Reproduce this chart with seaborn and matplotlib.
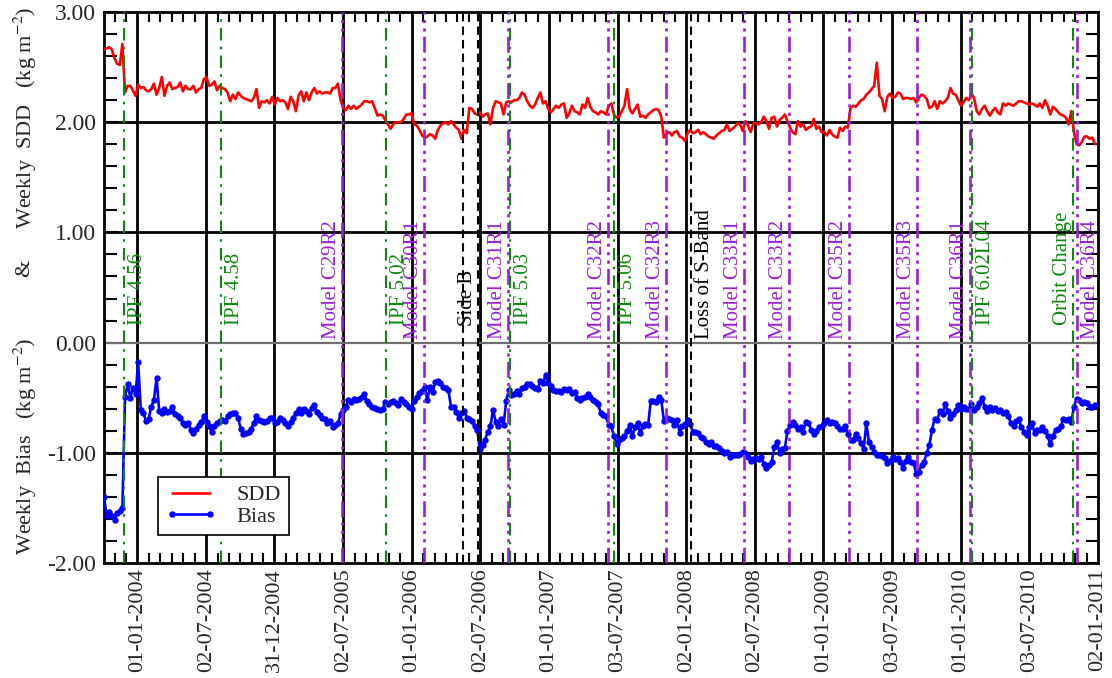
import numpy as np
import pandas as pd
import matplotlib
matplotlib.use("Agg")
import matplotlib.pyplot as plt
import matplotlib.transforms as mtransforms
import seaborn as sns

# ---------------------------------------------------------------- data
first_week = "2003-10-04"

# weekly standard deviation of differences (kg m-2)
sdd = [
    2.66, 2.67, 2.68, 2.66, 2.58, 2.53, 2.52, 2.71, 2.27, 2.33,
    2.33, 2.29, 2.24, 2.34, 2.31, 2.32, 2.29, 2.28, 2.30, 2.35,
    2.25, 2.31, 2.41, 2.24, 2.33, 2.36, 2.30, 2.31, 2.32, 2.36,
    2.28, 2.33, 2.30, 2.30, 2.33, 2.27, 2.30, 2.31, 2.39, 2.41,
    2.33, 2.34, 2.37, 2.29, 2.33, 2.31, 2.30, 2.27, 2.19, 2.25,
    2.21, 2.27, 2.24, 2.22, 2.21, 2.20, 2.19, 2.22, 2.30, 2.13,
    2.19, 2.18, 2.20, 2.17, 2.23, 2.16, 2.22, 2.19, 2.20, 2.18,
    2.12, 2.23, 2.19, 2.10, 2.24, 2.28, 2.19, 2.27, 2.20, 2.27,
    2.31, 2.26, 2.28, 2.26, 2.27, 2.27, 2.26, 2.31, 2.31, 2.35,
    2.20, 2.13, 2.11, 2.15, 2.12, 2.15, 2.12, 2.14, 2.16, 2.19,
    2.19, 2.18, 2.19, 2.13, 2.06, 2.07, 2.06, 2.02, 1.98, 1.94,
    1.98, 2.00, 2.00, 2.00, 2.03, 2.07, 2.07, 2.08, 1.98, 1.97,
    1.93, 1.88, 1.86, 1.87, 1.89, 1.88, 1.85, 1.93, 1.97, 1.99,
    2.00, 1.98, 2.01, 1.98, 1.95, 1.93, 1.85, 1.93, 1.90, 2.13,
    2.12, 2.08, 2.07, 2.09, 2.05, 2.07, 2.08, 1.98, 2.13, 2.19,
    2.18, 2.17, 2.07, 2.18, 2.19, 2.18, 2.20, 2.20, 2.22, 2.27,
    2.25, 2.19, 2.15, 2.13, 2.16, 2.22, 2.27, 2.17, 2.19, 2.12,
    2.09, 2.12, 2.15, 2.13, 2.16, 2.17, 2.04, 2.08, 2.15, 2.10,
    2.09, 2.07, 2.16, 2.13, 2.22, 2.14, 2.10, 2.09, 2.07, 2.10,
    2.09, 2.07, 2.15, 2.17, 2.07, 2.04, 2.05, 2.10, 2.15, 2.30,
    2.12, 2.08, 2.12, 2.16, 2.05, 2.06, 2.04, 2.07, 2.09, 2.11,
    2.12, 2.11, 2.05, 1.86, 1.89, 1.91, 1.88, 1.91, 1.92, 1.87,
    1.86, 1.83, 1.90, 1.93, 1.90, 1.91, 1.93, 1.89, 1.91, 1.89,
    1.87, 1.86, 1.85, 1.88, 1.90, 1.92, 1.93, 1.98, 1.92, 1.94,
    1.96, 1.99, 1.98, 1.92, 2.01, 1.97, 1.91, 1.99, 1.99, 1.98,
    2.00, 2.05, 2.01, 1.94, 2.04, 2.05, 1.96, 2.02, 2.04, 2.07,
    2.01, 1.95, 1.91, 1.89, 2.01, 1.96, 1.98, 1.93, 1.95, 1.96,
    2.03, 1.94, 1.96, 1.91, 1.91, 1.88, 1.93, 1.89, 1.87, 1.86,
    1.95, 1.92, 1.96, 1.95, 2.13, 2.15, 2.14, 2.17, 2.20, 2.21,
    2.25, 2.27, 2.30, 2.33, 2.54, 2.24, 2.21, 2.10, 2.23, 2.26,
    2.22, 2.23, 2.27, 2.26, 2.21, 2.22, 2.22, 2.21, 2.22, 2.18,
    2.22, 2.25, 2.24, 2.21, 2.13, 2.14, 2.19, 2.12, 2.19, 2.17,
    2.19, 2.22, 2.31, 2.26, 2.25, 2.20, 2.15, 2.18, 2.22, 2.20,
    2.26, 2.22, 2.10, 2.07, 2.12, 2.15, 2.10, 2.06, 2.10, 2.13,
    2.09, 2.07, 2.17, 2.15, 2.17, 2.16, 2.15, 2.17, 2.19, 2.19,
    2.18, 2.17, 2.16, 2.17, 2.16, 2.14, 2.17, 2.13, 2.20, 2.15,
    2.07, 2.14, 2.12, 2.09, 2.07, 2.06, 2.04, 1.98, 2.10, 1.91,
    1.80, 1.79, 1.82, 1.87, 1.87, 1.85, 1.86, 1.80,
]

# weekly mean bias (kg m-2)
bias = [
    -1.40, -1.57, -1.54, -1.57, -1.61, -1.55, -1.53, -1.50, -0.49, -0.38,
    -0.50, -0.41, -0.47, -0.18, -0.61, -0.64, -0.71, -0.69, -0.58, -0.52,
    -0.32, -0.62, -0.64, -0.60, -0.63, -0.62, -0.58, -0.65, -0.67, -0.68,
    -0.73, -0.75, -0.73, -0.79, -0.82, -0.78, -0.75, -0.72, -0.67, -0.72,
    -0.76, -0.81, -0.76, -0.73, -0.71, -0.70, -0.71, -0.67, -0.65, -0.64,
    -0.64, -0.68, -0.78, -0.83, -0.82, -0.81, -0.78, -0.73, -0.67, -0.70,
    -0.71, -0.72, -0.71, -0.68, -0.68, -0.73, -0.72, -0.68, -0.70, -0.73,
    -0.76, -0.72, -0.68, -0.64, -0.60, -0.64, -0.60, -0.62, -0.65, -0.59,
    -0.57, -0.63, -0.66, -0.68, -0.69, -0.73, -0.71, -0.77, -0.75, -0.73,
    -0.65, -0.61, -0.58, -0.52, -0.54, -0.51, -0.52, -0.51, -0.49, -0.47,
    -0.53, -0.56, -0.58, -0.59, -0.60, -0.61, -0.60, -0.54, -0.56, -0.54,
    -0.53, -0.55, -0.57, -0.51, -0.54, -0.56, -0.58, -0.60, -0.53, -0.49,
    -0.46, -0.44, -0.40, -0.52, -0.40, -0.45, -0.36, -0.35, -0.37, -0.40,
    -0.41, -0.43, -0.58, -0.58, -0.63, -0.68, -0.64, -0.62, -0.68, -0.69,
    -0.71, -0.76, -0.79, -0.97, -0.93, -0.88, -0.81, -0.76, -0.61, -0.72,
    -0.76, -0.69, -0.75, -0.53, -0.43, -0.48, -0.47, -0.44, -0.47, -0.41,
    -0.40, -0.38, -0.38, -0.39, -0.41, -0.42, -0.35, -0.37, -0.29, -0.37,
    -0.39, -0.43, -0.44, -0.44, -0.45, -0.42, -0.43, -0.42, -0.46, -0.45,
    -0.50, -0.52, -0.50, -0.49, -0.47, -0.49, -0.52, -0.54, -0.56, -0.64,
    -0.66, -0.67, -0.75, -0.76, -0.85, -0.92, -0.88, -0.87, -0.85, -0.80,
    -0.75, -0.85, -0.77, -0.73, -0.82, -0.76, -0.74, -0.75, -0.53, -0.53,
    -0.54, -0.49, -0.52, -0.71, -0.68, -0.69, -0.70, -0.75, -0.70, -0.82,
    -0.76, -0.74, -0.70, -0.74, -0.81, -0.81, -0.82, -0.86, -0.87, -0.90,
    -0.92, -0.90, -0.94, -0.94, -0.96, -0.98, -1.00, -0.99, -1.04, -1.02,
    -1.02, -1.02, -1.01, -0.99, -1.00, -1.04, -1.07, -1.06, -1.05, -1.06,
    -1.04, -1.10, -1.14, -1.11, -1.08, -0.95, -0.90, -1.00, -0.97, -0.96,
    -0.80, -0.75, -0.72, -0.75, -0.78, -0.77, -0.81, -0.72, -0.73, -0.79,
    -0.83, -0.80, -0.77, -0.76, -0.73, -0.70, -0.73, -0.72, -0.73, -0.76,
    -0.78, -0.78, -0.76, -0.83, -0.88, -0.88, -0.83, -0.87, -0.91, -0.97,
    -0.73, -0.90, -0.95, -0.99, -1.02, -1.02, -1.03, -1.05, -1.09, -1.07,
    -1.04, -1.06, -1.05, -1.08, -1.14, -1.07, -1.04, -1.08, -1.09, -1.19,
    -1.17, -1.11, -1.08, -1.00, -0.93, -0.79, -0.69, -0.70, -0.62, -0.65,
    -0.56, -0.62, -0.68, -0.65, -0.61, -0.57, -0.60, -0.58, -0.60, -0.60,
    -0.56, -0.61, -0.58, -0.55, -0.50, -0.58, -0.62, -0.58, -0.61, -0.59,
    -0.62, -0.61, -0.64, -0.63, -0.67, -0.73, -0.76, -0.71, -0.69, -0.77,
    -0.81, -0.84, -0.77, -0.73, -0.82, -0.79, -0.79, -0.77, -0.80, -0.85,
    -0.92, -0.85, -0.79, -0.78, -0.76, -0.69, -0.70, -0.69, -0.72, -0.58,
    -0.51, -0.52, -0.55, -0.54, -0.55, -0.58, -0.58, -0.57,
]

tick_labels = [
    "01-01-2004", "02-07-2004", "31-12-2004", "02-07-2005", "01-01-2006",
    "02-07-2006", "01-01-2007", "03-07-2007", "02-01-2008", "02-07-2008",
    "01-01-2009", "03-07-2009", "01-01-2010", "03-07-2010", "02-01-2011",
]

# processing / instrument events: date, label, kind, side of the line for the label
events = [
    ("2003-11-27", "IPF 4.56", "ipf", "right"),
    ("2004-08-11", "IPF 4.58", "ipf", "right"),
    ("2005-06-28", "Model C29R2", "model", "left"),
    ("2005-10-23", "IPF 5.02", "ipf", "right"),
    ("2006-02-03", "Model C30R1", "model", "left"),
    ("2006-05-18", "", "side", "right"),
    ("2006-06-26", "Side B", "side", "left"),
    ("2006-09-14", "Model C31R1", "model", "left"),
    ("2006-09-18", "IPF 5.03", "ipf", "right"),
    ("2007-06-08", "Model C32R2", "model", "left"),
    ("2007-06-24", "IPF 5.06", "ipf", "right"),
    ("2007-11-09", "Model C32R3", "model", "left"),
    ("2008-01-13", "Loss of S-Band", "sband", "right"),
    ("2008-06-03", "Model C33R1", "model", "left"),
    ("2008-09-30", "Model C33R2", "model", "left"),
    ("2009-03-10", "Model C35R2", "model", "left"),
    ("2009-09-06", "Model C35R3", "model", "left"),
    ("2010-01-25", "Model C36R1", "model", "left"),
    ("2010-02-01", "IPF 6.02L04", "ipf", "right"),
    ("2010-10-27", "Orbit Change", "ipf", "left"),
    ("2010-11-08", "Model C36R4", "model", "right"),
]

# ---------------------------------------------------------------- styling
GREEN = "#0b8a0b"
PURPLE = "#9b1fd8"
event_style = {
    "ipf":   dict(color=GREEN, ls=(0, (6, 3, 1.2, 3)), lw=1.5, text_y=0.16),
    "model": dict(color=PURPLE, ls=(0, (6, 2, 1.2, 2, 1.2, 2, 1.2, 2)), lw=1.9, text_y=0.035),
    "side":  dict(color="black", ls=(0, (4, 2.5)), lw=1.5, text_y=0.15),
    "sband": dict(color="black", ls=(0, (4, 2.5)), lw=1.5, text_y=0.035),
}

sns.set_style("ticks")
plt.rcParams["font.family"] = ["Liberation Serif", "DejaVu Serif"]
plt.rcParams["mathtext.fontset"] = "stix"
plt.rcParams["axes.unicode_minus"] = False

weeks = pd.date_range(first_week, periods=len(sdd), freq="7D")
df = pd.DataFrame({"week": weeks, "SDD": sdd, "Bias": bias})

fig = plt.figure(figsize=(11.12, 6.78), dpi=100)
ax = fig.add_axes([104 / 1112, 1 - 563 / 678, 994 / 1112, 551 / 678])

x_left = pd.Timestamp("2003-10-04")
x_right = pd.Timestamp("2011-01-02")
tick_dates = [pd.to_datetime(t, format="%d-%m-%Y") for t in tick_labels]

# reference grid
for d in tick_dates[:-1]:
    ax.axvline(d, color="black", lw=2.0, zorder=1)
for yv in (2, 1, -1):
    ax.axhline(yv, color="black", lw=2.0, zorder=1)
ax.axhline(0, color="#6f6f6f", lw=1.6, zorder=1)

# series
sns.lineplot(data=df, x="week", y="SDD", color="#ff0000", lw=1.9,
             label="SDD", ax=ax, zorder=3, sort=False)
sns.lineplot(data=df, x="week", y="Bias", color="#0000ff", lw=1.9,
             marker="o", markersize=4.6, markeredgewidth=0,
             label="Bias", ax=ax, zorder=3, sort=False)

# event markers with rotated labels
for date, label, kind, side in events:
    st = event_style[kind]
    d = pd.Timestamp(date)
    ax.axvline(d, color=st["color"], ls=st["ls"], lw=st["lw"], zorder=4)
    if not label:
        continue
    dx = 4 if side == "right" else -1
    tr = mtransforms.offset_copy(ax.transData, fig=fig, x=dx, y=0, units="dots")
    ax.text(d, st["text_y"], label, rotation=90, fontsize=15,
            color=st["color"], ha="left" if side == "right" else "right",
            va="bottom", transform=tr, zorder=5)

# axes ranges and ticks
ax.set_xlim(x_left, x_right)
ax.set_ylim(-2, 3)
ax.set_xticks(tick_dates)
ax.set_xticklabels(tick_labels, rotation=90, fontsize=16)

minor = []
for a, b in zip(tick_dates[:-1], tick_dates[1:]):
    step = (b - a) / 6
    minor += [a + k * step for k in range(1, 6)]
step0 = (tick_dates[1] - tick_dates[0]) / 6
k = 1
while tick_dates[0] - k * step0 > x_left:
    minor.append(tick_dates[0] - k * step0)
    k += 1
ax.set_xticks(minor, minor=True)

ax.set_yticks([-2, -1, 0, 1, 2, 3])
ax.set_yticklabels(["-2.00", "-1.00", "0.00", "1.00", "2.00", "3.00"], fontsize=17)
ax.set_yticks(np.arange(-2, 3.01, 0.2), minor=True)

ax.tick_params(axis="both", which="both", direction="in", top=True, right=True,
               width=1.5, color="black")
ax.tick_params(axis="x", which="major", length=0, pad=4)
ax.tick_params(axis="x", which="minor", length=7)
ax.tick_params(axis="y", which="major", length=10, pad=6)
ax.tick_params(axis="y", which="minor", length=9)
for s in ax.spines.values():
    s.set_linewidth(2)
    s.set_color("black")
ax.set_xlabel("")
ax.set_ylabel("")

leg = ax.legend(loc="lower left", bbox_to_anchor=(0.054, 0.051), borderaxespad=0,
                fontsize=16, numpoints=2, handlelength=2.3, handletextpad=0.9,
                labelspacing=0.05, borderpad=0.35, fancybox=False, framealpha=1,
                edgecolor="black")
leg.get_frame().set_linewidth(1.2)

# y-axis titles
fig.text(0.0225, 1 - 118 / 678, "Weekly  SDD   (kg m$^{-2}$)", rotation=90,
         fontsize=16, ha="center", va="center")
fig.text(0.0225, 1 - 268 / 678, "&", rotation=90, fontsize=16, ha="center", va="center")
fig.text(0.0225, 1 - 446 / 678, "Weekly  Bias   (kg m$^{-2}$)", rotation=90,
         fontsize=16, ha="center", va="center")

fig.savefig("out.png", dpi=100)
